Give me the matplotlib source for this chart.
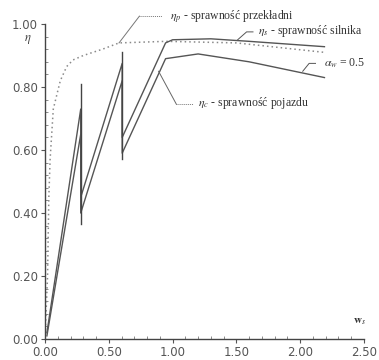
import numpy as np
import matplotlib.pyplot as plt

plt.rcParams['mathtext.fontset'] = 'stix'

# sprawność przekładni (dotted)
x_p = [0.0, 0.02, 0.03, 0.04, 0.065, 0.12, 0.17, 0.22, 0.30, 0.45, 0.58, 0.95, 1.50, 2.19]
eta_p = [0.0, 0.20, 0.45, 0.57, 0.73, 0.82, 0.865, 0.886, 0.90, 0.92, 0.94, 0.945, 0.94, 0.91]

# sprawność silnika (upper solid, with gear shifts)
x_s = [0.015, 0.28, 0.28, 0.605, 0.605, 0.945, 1.0, 1.3, 1.6, 2.19]
eta_s = [0.02, 0.73, 0.45, 0.875, 0.64, 0.94, 0.95, 0.953, 0.945, 0.928]

# sprawność pojazdu (lower solid)
x_c = [0.015, 0.28, 0.28, 0.605, 0.605, 0.945, 1.2, 1.6, 2.19]
eta_c = [0.01, 0.65, 0.40, 0.82, 0.59, 0.89, 0.905, 0.88, 0.83]

# gear change markers
shift_x = [0.28, 0.605]
shift_lo = [0.365, 0.57]
shift_hi = [0.81, 0.91]

fig = plt.figure(figsize=(3.79, 3.6), dpi=100)
ax = fig.add_axes([45 / 379, 0.0583, 319 / 379, 0.875])

line_col = '#555555'
ax.plot(x_p, eta_p, color='#8a8a8a', linestyle=(0, (1, 2)), linewidth=1.1)
ax.plot(x_s, eta_s, color=line_col, linewidth=1.0)
ax.plot(x_c, eta_c, color=line_col, linewidth=1.0)
for sx, lo, hi in zip(shift_x, shift_lo, shift_hi):
    ax.plot([sx, sx], [lo, hi], color='#444444', linewidth=1.0)

ax.set_xlim(0, 2.5)
ax.set_ylim(0, 1.0)
ax.set_xticks(np.arange(0, 2.51, 0.5))
ax.set_yticks(np.arange(0, 1.01, 0.2))
ax.set_xticklabels(['0.00', '0.50', '1.00', '1.50', '2.00', '2.50'])
ax.set_yticklabels(['0.00', '0.20', '0.40', '0.60', '0.80', '1.00'])
ax.set_xticks(np.arange(0, 2.51, 0.1), minor=True)
ax.set_yticks(np.arange(0, 1.01, 0.04), minor=True)
ax.tick_params(axis='both', which='major', labelsize=8.5, labelcolor='#555555',
               color='#555555', length=3, width=0.8, pad=2)
ax.tick_params(axis='both', which='minor', color='#777777', length=2, width=0.6,
               direction='in')
for side in ['top', 'right']:
    ax.spines[side].set_visible(False)
for side in ['left', 'bottom']:
    ax.spines[side].set_color('#444444')
    ax.spines[side].set_linewidth(1.0)

serif = 'Liberation Serif'
ann_kw = dict(fontsize=8.5, family=serif, color='#333333')

# axis symbols
fig.text(28 / 379, 1 - 40 / 360, r'$\eta$', fontsize=9, color='#444444',
         ha='center', va='center')
fig.text(360 / 379, 1 - 322 / 360, r'$\mathbf{w}_s$', fontsize=8, color='#333333',
         ha='center', va='center')

# leader lines and labels
ax.plot([0.74, 0.92], [1.025, 1.025], color='#777777', linewidth=0.7,
        clip_on=False, linestyle=(0, (1, 1)))
ax.plot([0.58, 0.74], [0.94, 1.025], color='#777777', linewidth=0.7, clip_on=False)
ax.text(0.98, 1.025, r'$\eta_p$ - sprawność przekładni', va='center', ha='left', **ann_kw)

ax.plot([1.51, 1.58, 1.63], [0.95, 0.975, 0.975], color='#555555', linewidth=0.7)
ax.text(1.67, 0.977, r'$\eta_s$ - sprawność silnika', va='center', ha='left', **ann_kw)

ax.plot([2.02, 2.07, 2.12], [0.85, 0.875, 0.875], color='#555555', linewidth=0.7)
ax.text(2.19, 0.877, r'$\alpha_w$ = 0.5', va='center', ha='left', **ann_kw)

ax.plot([0.89, 1.03], [0.85, 0.745], color='#666666', linewidth=0.7)
ax.plot([1.03, 1.16], [0.745, 0.745], color='#777777', linewidth=0.7,
        linestyle=(0, (1, 1)))
ax.text(1.2, 0.748, r'$\eta_c$ - sprawność pojazdu', va='center', ha='left', **ann_kw)

fig.savefig('out.png', dpi=100)
